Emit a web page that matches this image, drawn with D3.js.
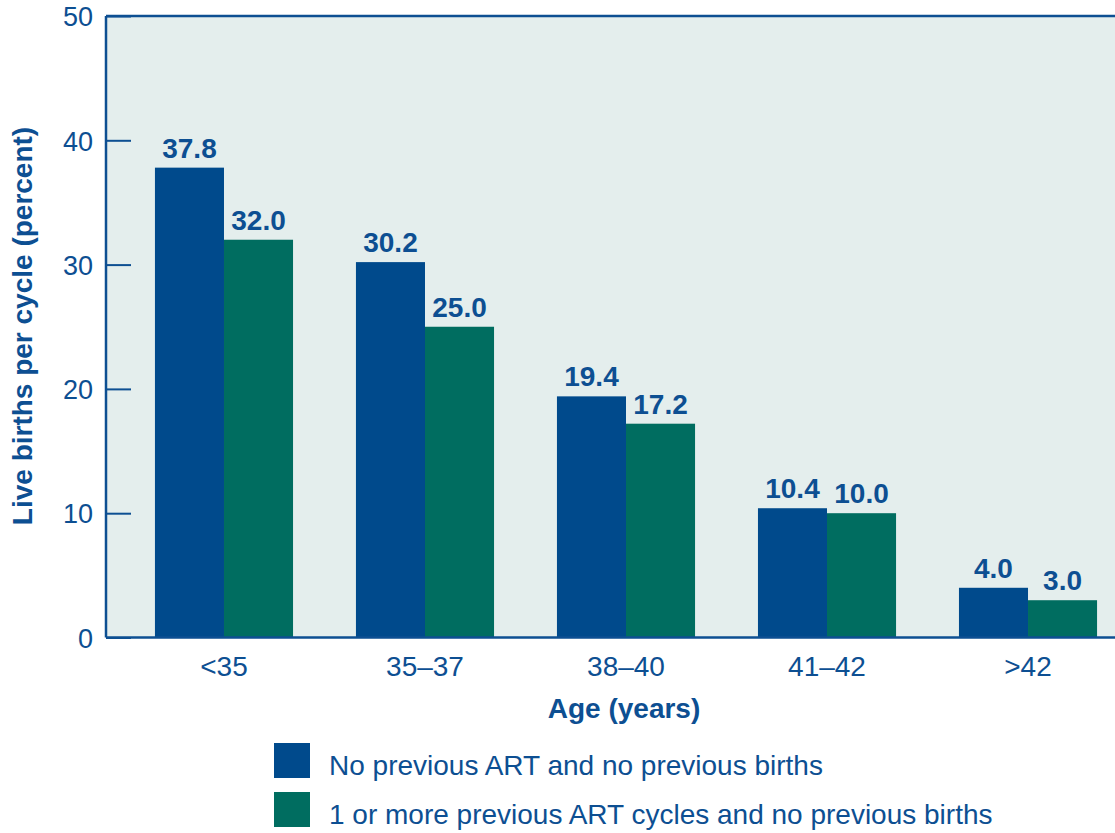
<!DOCTYPE html>
<html>
<head>
<meta charset="utf-8">
<script src="https://cdn.jsdelivr.net/npm/d3@7"></script>
<style>
  body { margin: 0; background: #fff; }
  text { font-family: "Liberation Sans", Arial, Helvetica, sans-serif; fill: #0d4f92; }
</style>
</head>
<body>
<div class="svg-class"></div>
<script>
// chart data
var ageGroups = ["<35", "35\u201337", "38\u201340", "41\u201342", ">42"];
var seriesNames = ["No previous ART and no previous births", "1 or more previous ART cycles and no previous births"];
var noPrevious = [37.8, 30.2, 19.4, 10.4, 4.0];
var prevCycles = [32.0, 25.0, 17.2, 10.0, 3.0];
var yTicks = [0, 10, 20, 30, 40, 50];

var width = 1115, height = 833;
var colors = ["#004a8c", "#006d60"];
var axisColor = "#0d4f92";

var svg = d3.select(".svg-class")
    .append("svg")
    .attr("width", width)
    .attr("height", height);

var plotLeft = 106, plotRight = 1146, plotTop = 16, plotBottom = 637.5;

var y = d3.scaleLinear()
    .domain([0, 50])
    .range([plotBottom, plotTop]);

var x0 = d3.scaleBand()
    .domain(ageGroups)
    .range([plotLeft, plotRight])
    .paddingInner(0.313)
    .paddingOuter(0.2435);

var x1 = d3.scaleBand()
    .domain([0, 1])
    .range([0, x0.bandwidth()]);

// plot background
svg.append("rect")
    .attr("x", plotLeft)
    .attr("y", plotTop)
    .attr("width", plotRight - plotLeft)
    .attr("height", plotBottom - plotTop)
    .attr("fill", "#e4eeed");

// bars
var rows = ageGroups.map(function (g, i) { return { group: g, values: [noPrevious[i], prevCycles[i]] }; });

var group = svg.selectAll(".group")
    .data(rows)
    .enter()
    .append("g")
    .attr("class", "group")
    .attr("transform", function (d) { return "translate(" + x0(d.group) + ",0)"; });

group.selectAll("rect")
    .data(function (d) { return d.values; })
    .enter()
    .append("rect")
    .attr("x", function (d, i) { return x1(i); })
    .attr("y", function (d) { return y(d); })
    .attr("width", x1.bandwidth())
    .attr("height", function (d) { return y(0) - y(d); })
    .attr("fill", function (d, i) { return colors[i]; });

// value labels
group.selectAll(".val")
    .data(function (d) { return d.values; })
    .enter()
    .append("text")
    .attr("class", "val")
    .attr("x", function (d, i) { return x1(i) + x1.bandwidth() / 2; })
    .attr("y", function (d) { return y(d) - 10; })
    .attr("text-anchor", "middle")
    .style("font-size", "28px")
    .style("font-weight", "bold")
    .text(function (d) { return d3.format(".1f")(d); });

// y axis: ticks pointing inward
var yAxis = d3.axisRight(y)
    .tickValues(yTicks)
    .tickSize(25)
    .tickFormat("");

var yg = svg.append("g")
    .attr("transform", "translate(" + plotLeft + ",0)")
    .call(yAxis);
yg.select(".domain").remove();
yg.selectAll("line").attr("stroke", axisColor).attr("stroke-width", 2);

yg.selectAll(".tick")
    .append("text")
    .attr("x", -13)
    .attr("dy", "0.36em")
    .attr("text-anchor", "end")
    .style("font-size", "27px")
    .text(function (d) { return d; });

// frame lines
svg.append("line")
    .attr("x1", plotLeft).attr("x2", plotLeft)
    .attr("y1", plotTop).attr("y2", plotBottom)
    .attr("stroke", axisColor).attr("stroke-width", 2.5);
svg.append("line")
    .attr("x1", plotLeft).attr("x2", plotRight)
    .attr("y1", plotTop).attr("y2", plotTop)
    .attr("stroke", axisColor).attr("stroke-width", 2.5);
svg.append("line")
    .attr("x1", plotLeft).attr("x2", plotRight)
    .attr("y1", plotBottom).attr("y2", plotBottom)
    .attr("stroke", axisColor).attr("stroke-width", 2.5);

// x axis labels
var xAxis = d3.axisBottom(x0).tickSize(0).tickPadding(0);
var xg = svg.append("g")
    .attr("transform", "translate(0," + plotBottom + ")")
    .call(xAxis);
xg.select(".domain").remove();
xg.selectAll("text")
    .attr("y", 38)
    .attr("dy", 0)
    .attr("fill", null)
    .style("font-size", "28px")
    .style("font-family", null);
xg.attr("font-family", null).attr("font-size", null);

// axis titles
svg.append("text")
    .attr("x", 624)
    .attr("y", 718)
    .attr("text-anchor", "middle")
    .style("font-size", "28px")
    .style("font-weight", "bold")
    .text("Age (years)");

svg.append("text")
    .attr("transform", "translate(32,326) rotate(-90)")
    .attr("text-anchor", "middle")
    .style("font-size", "28px")
    .style("font-weight", "bold")
    .text("Live births per cycle (percent)");

// legend
var legend = svg.selectAll(".legend")
    .data(seriesNames)
    .enter()
    .append("g")
    .attr("class", "legend")
    .attr("transform", function (d, i) { return "translate(274," + (743 + i * 49) + ")"; });

legend.append("rect")
    .attr("width", 36)
    .attr("height", 35)
    .attr("fill", function (d, i) { return colors[i]; });

legend.append("text")
    .attr("x", 55)
    .attr("y", 32)
    .style("font-size", "28px")
    .text(function (d) { return d; });
</script>
</body>
</html>
